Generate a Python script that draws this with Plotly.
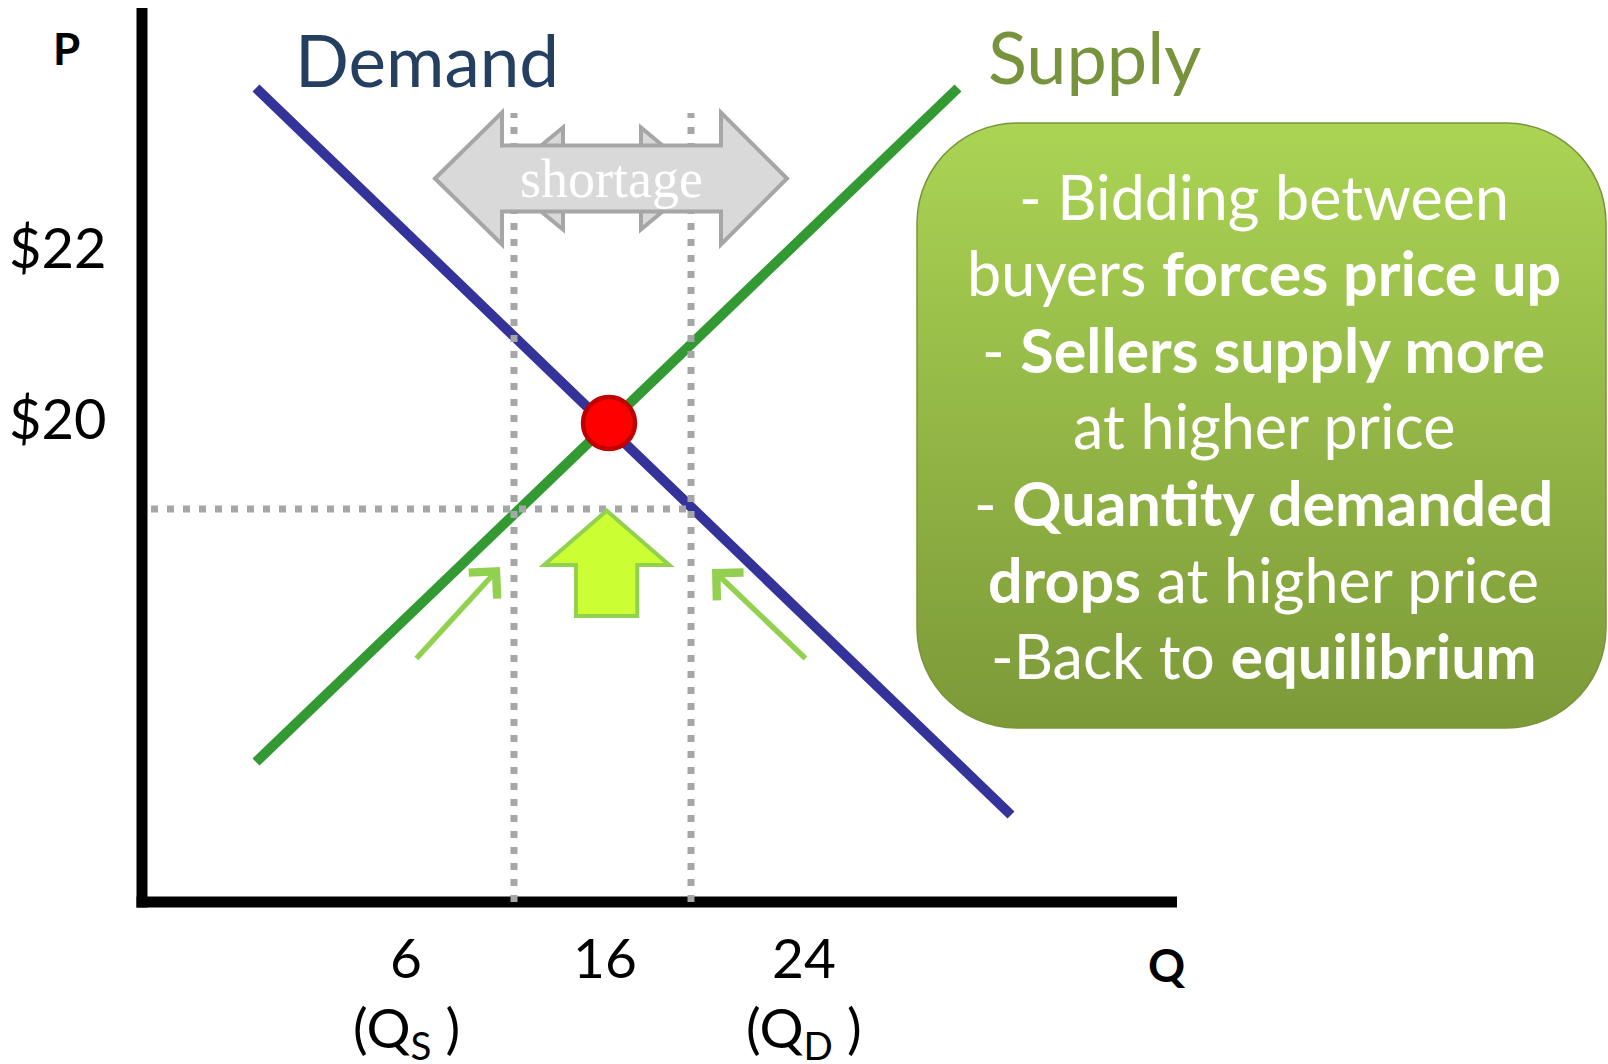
import numpy as np
import plotly.graph_objects as go

# chart units: 1 unit = 10 px, origin at the corner of the axes
demand_q = [11.4, 86.9]
demand_p = [81.4, 8.7]
supply_q = [11.4, 81.6]
supply_p = [14.0, 81.4]

eq_q = 46.7
eq_p = 47.9

qs = 37.2          # quantity supplied at the low price
qd = 54.9          # quantity demanded at the low price
low_price = 39.3

q_ticks = ["6", "16", "24"]
q_tick_pos = [26.4, 46.3, 66.2]
q_sub = ["(Q<sub>S</sub> )", "", "(Q<sub>D</sub> )"]
p_ticks = ["$22", "$20"]
p_tick_pos = [65.6, 48.5]

box_lines = [
    "- Bidding between",
    "buyers <b>forces price up</b>",
    "- <b>Sellers supply more</b>",
    "at higher price",
    "- <b>Quantity demanded</b>",
    "<b>drops</b> at higher price",
    "-Back to <b>equilibrium</b>",
]

FONT = "Lato, Carlito, Calibri, sans-serif"

fig = go.Figure()

# green explanation box, rounded corners and vertical gradient
x0, x1, y0, y1, r = 77.5, 146.4, 17.4, 77.9, 10.0
bx, by = [], []
for cx, cy, a0 in [(x1 - r, y1 - r, 0), (x0 + r, y1 - r, 90),
                   (x0 + r, y0 + r, 180), (x1 - r, y0 + r, 270)]:
    a = np.radians(np.linspace(a0, a0 + 90, 16))
    bx += list(cx + r * np.cos(a))
    by += list(cy + r * np.sin(a))
bx.append(bx[0])
by.append(by[0])
fig.add_trace(go.Scatter(
    x=bx, y=by, mode="lines", fill="toself",
    fillgradient=dict(type="vertical", start=y0, stop=y1,
                      colorscale=[[0, "#7C9938"], [1, "#ABD454"]]),
    line=dict(color="#78953A", width=1.5),
    hoverinfo="skip", showlegend=False,
))

# demand and supply curves
fig.add_trace(go.Scatter(x=demand_q, y=demand_p, mode="lines",
                         line=dict(color="#333399", width=10),
                         hoverinfo="skip", showlegend=False))
fig.add_trace(go.Scatter(x=supply_q, y=supply_p, mode="lines",
                         line=dict(color="#339933", width=10),
                         hoverinfo="skip", showlegend=False))
fig.add_trace(go.Scatter(x=[eq_q], y=[eq_p], mode="markers",
                         marker=dict(size=52, color="#FF0000",
                                     line=dict(color="#C00000", width=4.5)),
                         hoverinfo="skip", showlegend=False))

# axes
fig.add_shape(type="line", x0=0, x1=0, y0=-0.55, y1=89.4,
              line=dict(color="black", width=11), layer="above")
fig.add_shape(type="line", x0=-0.55, x1=103.5, y0=0, y1=0,
              line=dict(color="black", width=11), layer="above")

# dotted guide lines
dot = dict(color="#A6A6A6", width=7, dash="7px,9px")
for q in (qs, qd):
    fig.add_shape(type="line", x0=q, x1=q, y0=0, y1=78.9, line=dot, layer="above")
fig.add_shape(type="line", x0=0.9, x1=qd + 0.2, y0=low_price, y1=low_price,
              line=dot, layer="above")


def double_arrow(xl, xr, xbl, xbr, yc, hh, sh):
    pts = [(xl, yc), (xbl, yc + hh), (xbl, yc + sh), (xbr, yc + sh),
           (xbr, yc + hh), (xr, yc), (xbr, yc - hh), (xbr, yc - sh),
           (xbl, yc - sh), (xbl, yc - hh)]
    return "M " + " L ".join(f"{x},{y}" for x, y in pts) + " Z"


grey = dict(color="#A6A6A6", width=4)
fig.add_shape(type="path", path=double_arrow(35.9, 56.0, 42.1, 49.9, 72.35, 5.1, 2.6),
              fillcolor="#D9D9D9", line=grey, layer="above")
fig.add_shape(type="path", path=double_arrow(29.3, 64.5, 36.0, 57.9, 72.35, 6.6, 3.3),
              fillcolor="#D9D9D9", line=grey, layer="above")

# big up arrow below equilibrium
up = [(43.4, 28.6), (49.53, 28.6), (49.53, 33.7), (52.73, 33.7),
      (46.47, 39.13), (40.2, 33.7), (43.4, 33.7)]
fig.add_shape(type="path",
              path="M " + " L ".join(f"{x},{y}" for x, y in up) + " Z",
              fillcolor="#CCFF33", line=dict(color="#92D050", width=4), layer="above")

# small movement arrows
for (tx, ty), (sx, sy) in [((35.8, 33.5), (27.3, 24.2)), ((57.0, 33.3), (66.5, 24.2))]:
    fig.add_annotation(x=tx, y=ty, ax=sx, ay=sy, xref="x", yref="y",
                       axref="x", ayref="y", text="", showarrow=True,
                       arrowhead=4, arrowsize=1.35, arrowwidth=5.5,
                       arrowcolor="#92D050")

# labels
fig.add_annotation(x=28.5, y=84.3, text="Demand", showarrow=False,
                   font=dict(family=FONT, size=71, color="#243F60"))
fig.add_annotation(x=95.2, y=84.6, text="Supply", showarrow=False,
                   font=dict(family=FONT, size=72, color="#77933C"))
fig.add_annotation(x=46.9, y=72.3, text="shortage", showarrow=False,
                   font=dict(family="Liberation Serif, Times New Roman, serif",
                             size=54, color="white"))
fig.add_annotation(x=-7.6, y=85.4, text="<b>P</b>", showarrow=False,
                   font=dict(family=FONT, size=44, color="black"))
fig.add_annotation(x=102.5, y=-6.2, text="<b>Q</b>", showarrow=False,
                   font=dict(family=FONT, size=46, color="black"))

for txt, pos in zip(p_ticks, p_tick_pos):
    fig.add_annotation(x=-3.4, y=pos, text=txt, showarrow=False, xanchor="right",
                       font=dict(family=FONT, size=56, color="black"))
for txt, sub, pos in zip(q_ticks, q_sub, q_tick_pos):
    fig.add_annotation(x=pos, y=-5.5, text=txt, showarrow=False,
                       font=dict(family=FONT, size=55, color="black"))
    if sub:
        fig.add_annotation(x=pos, y=-12.9, text=sub, showarrow=False,
                           font=dict(family=FONT, size=55, color="black"))

# box text, one annotation per line so spacing can be kept tight
for i, line in enumerate(box_lines):
    fig.add_annotation(x=(x0 + x1) / 2 + 0.2, y=70.6 - 7.66 * i, text=line,
                       showarrow=False,
                       font=dict(family=FONT, size=61, color="white"))

fig.update_layout(
    width=1608, height=1064,
    margin=dict(l=0, r=0, t=0, b=0),
    plot_bgcolor="white", paper_bgcolor="white",
    xaxis=dict(range=[-14.2, 146.6], visible=False, fixedrange=True),
    yaxis=dict(range=[-16.2, 90.2], visible=False, fixedrange=True),
    showlegend=False,
)

# drop the default page margin so the figure sits flush in the window
fig.write_html("out.html",
               config={"displayModeBar": False},
               post_script="document.body.style.margin='0';"
                           "document.body.style.overflow='hidden';")
